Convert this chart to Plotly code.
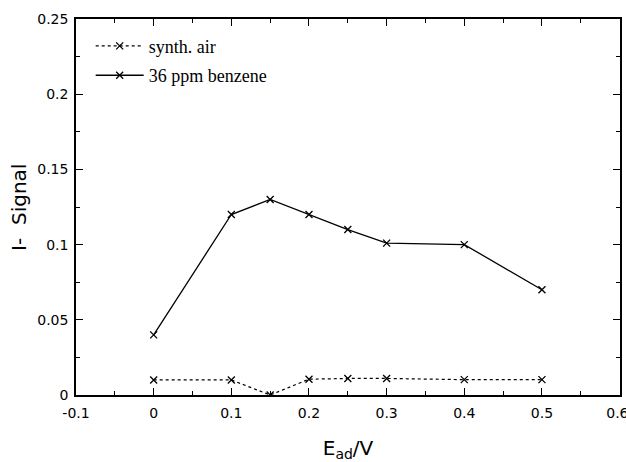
import plotly.graph_objects as go

x_vals = [0, 0.1, 0.15, 0.2, 0.25, 0.3, 0.4, 0.5]
air = [0.01, 0.01, 0.0, 0.0105, 0.011, 0.011, 0.0102, 0.0102]
benzene = [0.04, 0.12, 0.13, 0.12, 0.11, 0.101, 0.1, 0.07]
x_ticks = [-0.1, 0, 0.1, 0.2, 0.3, 0.4, 0.5, 0.6]
x_ticklabels = ["-0.1", "0", "0.1", "0.2", "0.3", "0.4", "0.5", "0.6\u00a0"]
y_ticks = [0, 0.05, 0.1, 0.15, 0.2, 0.25]
y_ticklabels = ["0", "0.05", "0.1", "0.15", "0.2", "0.25"]

fig = go.Figure()
fig.add_trace(go.Scatter(x=x_vals, y=air, mode="lines+markers", name="synth. air", legendgroup="a",
                         line=dict(color="black", width=1.2, dash="dot"),
                         marker=dict(symbol="x-thin", size=7, line=dict(color="black", width=1.3))))
fig.add_trace(go.Scatter(x=x_vals, y=benzene, mode="lines+markers", name="36 ppm benzene", legendgroup="b",
                         line=dict(color="black", width=1.3),
                         marker=dict(symbol="x-thin", size=7, line=dict(color="black", width=1.3))))

axis_common = dict(showgrid=False, zeroline=False, showline=True, linecolor="black", linewidth=1.5,
                   mirror="ticks", ticks="inside", ticklen=7, tickcolor="black", tickwidth=1.2,
                   automargin=False,
                   tickfont=dict(family="DejaVu Sans", size=14, color="black"))
fig.update_xaxes(range=[-0.1, 0.6005], tickvals=x_ticks, ticktext=x_ticklabels,
                 ticklabeloverflow="allow", ticklabelstandoff=4,
                 minor=dict(dtick=0.05, ticks="inside", ticklen=4, tickcolor="black"),
                 title=dict(text="E<sub>ad</sub>/V", font=dict(family="DejaVu Sans", size=20, color="black"), standoff=23),
                 **axis_common)
fig.update_yaxes(range=[0, 0.25], tickvals=y_ticks, ticktext=y_ticklabels,
                 ticklabelstandoff=3,
                 minor=dict(dtick=0.025, ticks="inside", ticklen=4, tickcolor="black"),
                 **axis_common)

fig.add_annotation(text="I-  Signal", xref="paper", yref="paper", x=-0.105, y=0.5,
                   xanchor="center", yanchor="middle", textangle=-90, showarrow=False,
                   font=dict(family="DejaVu Sans", size=20, color="black"))

fig.update_layout(width=626, height=462, margin=dict(l=76, r=6, t=19, b=67),
                  plot_bgcolor="white", paper_bgcolor="white",
                  legend=dict(x=0.027, y=0.977, xanchor="left", yanchor="top",
                              bgcolor="rgba(0,0,0,0)", itemwidth=48, traceorder="grouped", tracegroupgap=3,
                              font=dict(family="Liberation Serif", size=18, color="black")),
                  showlegend=True)
fig.write_html("out.html", config={"displayModeBar": False},
               post_script="document.body.style.margin='0';document.body.style.overflow='hidden';")
